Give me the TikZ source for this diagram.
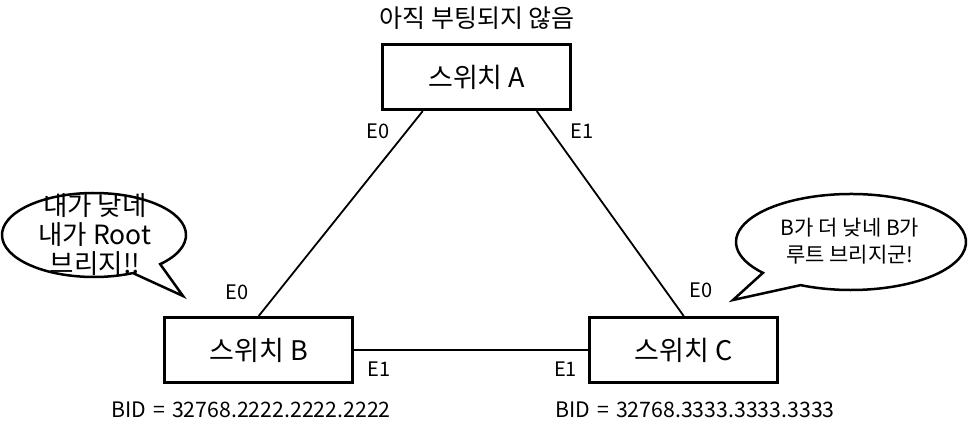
\documentclass[tikz,border=0pt]{standalone}
\usepackage{fontspec}
\setmainfont{Noto Sans CJK KR}
\usetikzlibrary{calc}
\begin{document}
\begin{tikzpicture}[x=1pt,y=1pt,
  switchbox/.style={draw, line width=3pt, minimum width=188pt, minimum height=65pt, inner sep=0pt, font=\fontsize{27}{31}\selectfont},
  port/.style={font=\fontsize{20}{24}\selectfont, inner sep=0pt},
  bid/.style={font=\fontsize{21.3}{25}\selectfont, inner sep=0pt},
  note/.style={font=\fontsize{25}{29}\selectfont, inner sep=0pt},
  link/.style={line width=1.8pt},
  bubble/.style={line width=2.5pt, fill=white, line join=miter}]
\useasboundingbox (0,0) rectangle (968,435);
\fill[white] (0,0) rectangle (968,435);

% switches
\node[switchbox] (A) at (476.75,357.9) {스위치 A};
\node[switchbox] (B) at (258.7,85) {스위치 B};
\node[switchbox] (C) at (683.7,85) {스위치 C};

% links
\draw[link] ($(A.south)+(-54,0)$) -- (B.north);
\draw[link] ($(A.south)+(60,0)$) -- (C.north);
\draw[link] (B.east) -- (C.west);

% labels
\node[note] (boot) at (477,417) {아직 부팅되지 않음};
\node[port] (pA0) at (378,304) {E0};
\node[port] (pA1) at (582,304) {E1};
\node[port] (pB0) at (237,143) {E0};
\node[port] (pB1) at (379,66) {E1};
\node[port] (pC0) at (701,145) {E0};
\node[port] (pC1) at (565.5,66) {E1};
\node[bid] (bidB) at (251,25) {BID\,\,=\,\,32768.2222.2222.2222};
\node[bid] (bidC) at (695,25) {BID\,\,=\,\,32768.3333.3333.3333};

% left callout
\coordinate (lcc) at (94,200);
\coordinate (ltip) at (183,139);
\draw[bubble] ([shift={(-44:92pt and 42pt)}]lcc) arc[start angle=-44, end angle=295, x radius=92pt, y radius=42pt] -- (ltip) -- cycle;
\node[align=center, inner sep=0pt, font=\fontsize{26.5}{29}\selectfont] (ltext) at (95,200) {내가 낮네\\내가 Root\\브리지!!};

% right callout
\coordinate (rcc) at (851,193);
\coordinate (rtip) at (733,135);
\draw[bubble] ([shift={(244:115pt and 48pt)}]rcc) arc[start angle=244, end angle=580, x radius=115pt, y radius=48pt] -- (rtip) -- cycle;
\node[align=center, inner sep=0pt, font=\fontsize{21}{27}\selectfont] (rtext) at (850,194) {B가 더 낮네 B가\\루트 브리지군!};
\end{tikzpicture}
\end{document}
